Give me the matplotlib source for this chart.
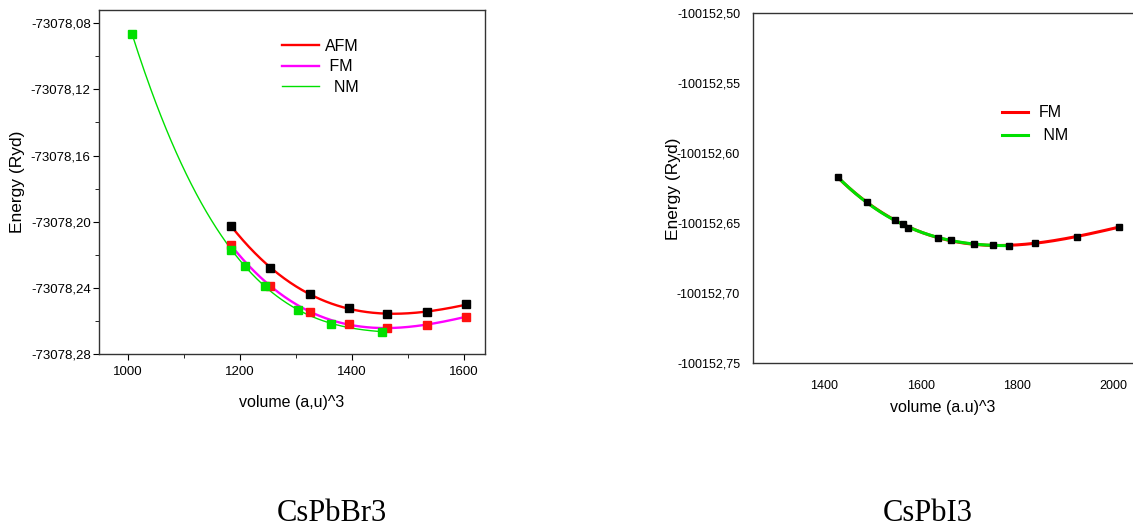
import numpy as np
import matplotlib.pyplot as plt
from matplotlib.ticker import FuncFormatter, MultipleLocator

plt.rcParams['font.family'] = ['Liberation Sans', 'DejaVu Sans']

# CsPbBr3: E(V) for the three magnetic configurations
br_nm_v = [1007, 1184, 1208, 1245, 1304, 1362, 1454]
br_nm_e = [-73078.0865, -73078.2170, -73078.2269, -73078.2390,
           -73078.2533, -73078.2618, -73078.2665]
br_fm_v = [1184, 1254, 1324, 1394, 1463, 1533, 1603]
br_fm_e = [-73078.2143, -73078.2392, -73078.2545, -73078.2618,
           -73078.2644, -73078.2626, -73078.2574]
br_afm_v = [1184, 1254, 1324, 1394, 1463, 1533, 1603]
br_afm_e = [-73078.2026, -73078.2281, -73078.2438, -73078.2523,
            -73078.2557, -73078.2547, -73078.2501]

# CsPbI3: FM and NM
i_fm_v = [1428, 1488, 1547, 1563, 1574, 1636, 1663, 1710, 1750, 1784,
          1837, 1924, 2011]
i_fm_e = [-100152.6171, -100152.6350, -100152.6479, -100152.6505,
          -100152.6531, -100152.6602, -100152.6619, -100152.6650,
          -100152.6655, -100152.6660, -100152.6640, -100152.6598,
          -100152.6526]
i_nm_v = i_fm_v[:10]
i_nm_e = i_fm_e[:10]


def fit_curve(v, e, deg=3):
    c = np.polyfit(v, e, deg)
    xs = np.linspace(min(v), max(v), 200)
    return xs, np.polyval(c, xs)


def comma_fmt(val, pos):
    return ('%.2f' % val).replace('.', ',')


fig = plt.figure(figsize=(11.33, 5.29), dpi=100)

# ---- CsPbBr3 ----
ax1 = fig.add_axes([0.0874, 0.331, 0.3406, 0.650])
x, y = fit_curve(br_afm_v, br_afm_e)
ax1.plot(x, y, color='#ff0000', lw=1.7, label='AFM')
x, y = fit_curve(br_fm_v, br_fm_e)
ax1.plot(x, y, color='#ff00ff', lw=1.7, label=' FM')
x, y = fit_curve(br_nm_v, br_nm_e)
ax1.plot(x, y, color='#00e000', lw=1.0, label='  NM')
ax1.plot(br_afm_v, br_afm_e, 's', color='black', ms=5.5, zorder=3)
ax1.plot(br_fm_v, br_fm_e, 's', color='#ff1010', ms=5.5, zorder=3)
ax1.plot(br_nm_v, br_nm_e, 's', color='#00e000', ms=5.5, zorder=4)

ax1.set_xlim(948, 1637)
ax1.set_ylim(-73078.28, -73078.072)
ax1.xaxis.set_major_locator(MultipleLocator(200))
ax1.xaxis.set_minor_locator(MultipleLocator(100))
ax1.yaxis.set_major_locator(MultipleLocator(0.04))
ax1.yaxis.set_minor_locator(MultipleLocator(0.02))
ax1.yaxis.set_major_formatter(FuncFormatter(comma_fmt))
ax1.tick_params(which='both', direction='out', labelsize=9.5, top=False,
                right=False)
ax1.tick_params(which='major', length=4, pad=2)
ax1.tick_params(which='minor', length=3)
ax1.tick_params(axis='x', pad=5)
for s in ax1.spines.values():
    s.set_linewidth(1.0)
    s.set_color('#333333')
ax1.set_xlabel('volume (a,u)^3', fontsize=11.5, labelpad=12)
ax1.set_ylabel('Energy (Ryd)', fontsize=12.5, labelpad=4)
ax1.legend(loc='upper left', bbox_to_anchor=(0.458, 0.935), frameon=False,
           fontsize=11.5, handlelength=2.3, labelspacing=0.35,
           handletextpad=0.4, borderaxespad=0)

# ---- CsPbI3 ----
ax2 = fig.add_axes([0.6643, 0.313, 0.3357, 0.662])
x, y = fit_curve(i_fm_v, i_fm_e)
ax2.plot(x, y, color='#ff0000', lw=2.2, label='FM')
x, y = fit_curve(i_nm_v, i_nm_e)
ax2.plot(x, y, color='#00e000', lw=2.2, label=' NM')
ax2.plot(i_fm_v, i_fm_e, 's', color='black', ms=5, zorder=3)

ax2.set_xlim(1251, 2041)
ax2.set_ylim(-100152.75, -100152.50)
ax2.xaxis.set_major_locator(MultipleLocator(200))
ax2.yaxis.set_major_locator(MultipleLocator(0.05))
ax2.yaxis.set_major_formatter(FuncFormatter(comma_fmt))
ax2.tick_params(length=0, labelsize=9)
ax2.tick_params(axis='y', pad=9)
ax2.tick_params(axis='x', pad=12)
ax2.spines['right'].set_visible(False)
for s in ax2.spines.values():
    s.set_linewidth(1.0)
    s.set_color('#333333')
ax2.set_xlabel('volume (a.u)^3', fontsize=11.5, labelpad=6)
ax2.set_ylabel('Energy (Ryd)', fontsize=12.5, labelpad=-3)
ax2.legend(loc='upper left', bbox_to_anchor=(0.64, 0.755), frameon=False,
           fontsize=11.5, handlelength=1.6, labelspacing=0.5,
           handletextpad=0.7, borderaxespad=0)

fig.text(0.293, 0.015, 'CsPbBr3', fontsize=22, family='Liberation Serif',
         ha='center')
fig.text(0.819, 0.015, 'CsPbI3', fontsize=22, family='Liberation Serif',
         ha='center')

fig.savefig('out.png', dpi=100, facecolor='white')
